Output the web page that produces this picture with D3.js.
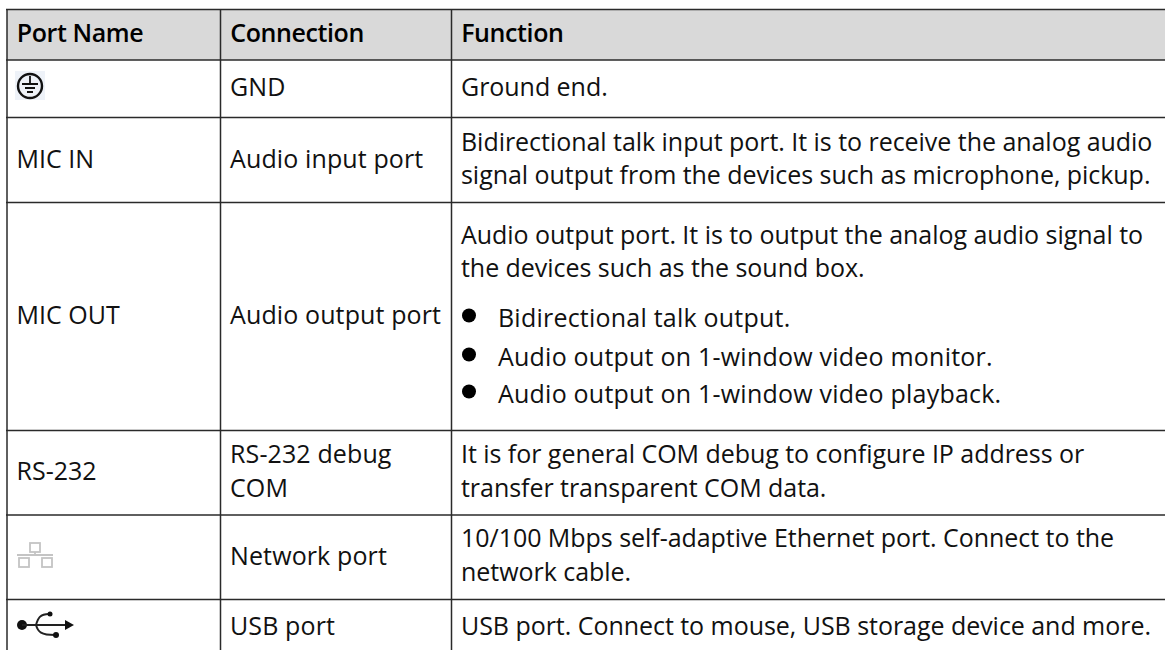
<!DOCTYPE html>
<html><head><meta charset="utf-8"><style>html,body{margin:0;background:#fff;overflow:hidden}svg{display:block}</style>
<script src="https://cdnjs.cloudflare.com/ajax/libs/d3/7.8.5/d3.min.js"></script></head><body><svg id="c" width="1165" height="650"></svg>
<script>
// content
const headers=["Port Name","Connection","Function"];
const portNames=["MIC IN","MIC OUT","RS-232"];
const connections=["GND","Audio input port","Audio output port","RS-232 debug","COM","Network port","USB port"];
const functionLines=[
 "Ground end.",
 "Bidirectional talk input port. It is to receive the analog audio",
 "signal output from the devices such as microphone, pickup.",
 "Audio output port. It is to output the analog audio signal to",
 "the devices such as the sound box.",
 "It is for general COM debug to configure IP address or",
 "transfer transparent COM data.",
 "10/100 Mbps self-adaptive Ethernet port. Connect to the",
 "network cable.",
 "USB port. Connect to mouse, USB storage device and more."
];
const bulletLines=["Bidirectional talk output.","Audio output on 1-window video monitor.","Audio output on 1-window video playback."];

// layout (kept apart from the content)
const columnEdges=[7,220.5,451.5];
const rowEdges=[9.5,60,117.5,202.5,430.5,515,599.5];
const portY=[168,323.5,480];
const connectionY=[96,168,323.5,463,497,565,635];
const functionY=[96,151,184,244,277,463,497,547,581,635];
const bulletY=[327,366,403];

const svg=d3.select("#c");
svg.append("rect").attr("x",7).attr("y",9).attr("width",1158).attr("height",51).attr("fill","#d9d9d9");
svg.selectAll("line.row").data(rowEdges).join("line").attr("class","row")
  .attr("x1",6).attr("x2",1165).attr("y1",d=>d).attr("y2",d=>d).attr("stroke","#2a2a2a").attr("stroke-width",1.5);
svg.selectAll("line.col").data(columnEdges).join("line").attr("class","col")
  .attr("x1",d=>d).attr("x2",d=>d).attr("y1",9).attr("y2",650).attr("stroke","#2a2a2a").attr("stroke-width",1.5);

function column(cls,texts,xf,yf,weight,spacing){
  svg.selectAll("text."+cls).data(texts).join("text").attr("class",cls)
    .attr("x",xf).attr("y",yf)
    .attr("font-family","'Open Sans'").attr("font-size",25)
    .attr("font-weight",weight).attr("letter-spacing",spacing)
    .attr("fill",weight>400?"#000":"#111").text(d=>d);
}
column("head",headers,(d,i)=>columnEdges[i]+9.7,42,600,-0.4);
column("port",portNames,16.5,(d,i)=>portY[i],400,0);
column("conn",connections,230,(d,i)=>connectionY[i],400,0.12);
column("func",functionLines,461,(d,i)=>functionY[i],400,-0.04);
column("bull",bulletLines,498,(d,i)=>bulletY[i],400,0.22);
svg.selectAll("circle.dot").data(bulletY).join("circle").attr("class","dot")
  .attr("cx",469).attr("cy",d=>d-11.5).attr("r",7).attr("fill","#000");

// ground icon
const g=svg.append("g").attr("fill","none").attr("stroke","#111");
g.append("rect").attr("x",15).attr("y",71).attr("width",30).attr("height",29).attr("fill","#eef2f8").attr("stroke","none");
g.append("circle").attr("cx",30).attr("cy",86).attr("r",12).attr("stroke-width",2.4);
g.append("path").attr("stroke-width",1.8).attr("d","M30 76V84M22 84H38M25 88H35M27 92H33");
// network icon
const n=svg.append("g").attr("fill","none").attr("stroke","#c4c4c4").attr("stroke-width",1.8);
n.append("rect").attr("x",30).attr("y",543).attr("width",10).attr("height",9);
n.append("rect").attr("x",19).attr("y",558).attr("width",10).attr("height",9);
n.append("rect").attr("x",42).attr("y",558).attr("width",10).attr("height",9);
n.append("path").attr("d","M17 555H53M35 552V555");
// usb icon
const u=svg.append("g");
u.append("circle").attr("cx",22).attr("cy",625).attr("r",5).attr("fill","#111");
u.append("path").attr("fill","none").attr("stroke","#222").attr("stroke-width",2).attr("d","M22 625H66M36 625C38 618 40 614 49 614M36 625C38 632 41 635 55 635");
u.append("circle").attr("cx",50).attr("cy",614).attr("r",2.5).attr("fill","#111");
u.append("circle").attr("cx",56).attr("cy",635).attr("r",3).attr("fill","#111");
u.append("path").attr("fill","#111").attr("d","M65 620L74 625L65 630Z");
</script></body></html>
